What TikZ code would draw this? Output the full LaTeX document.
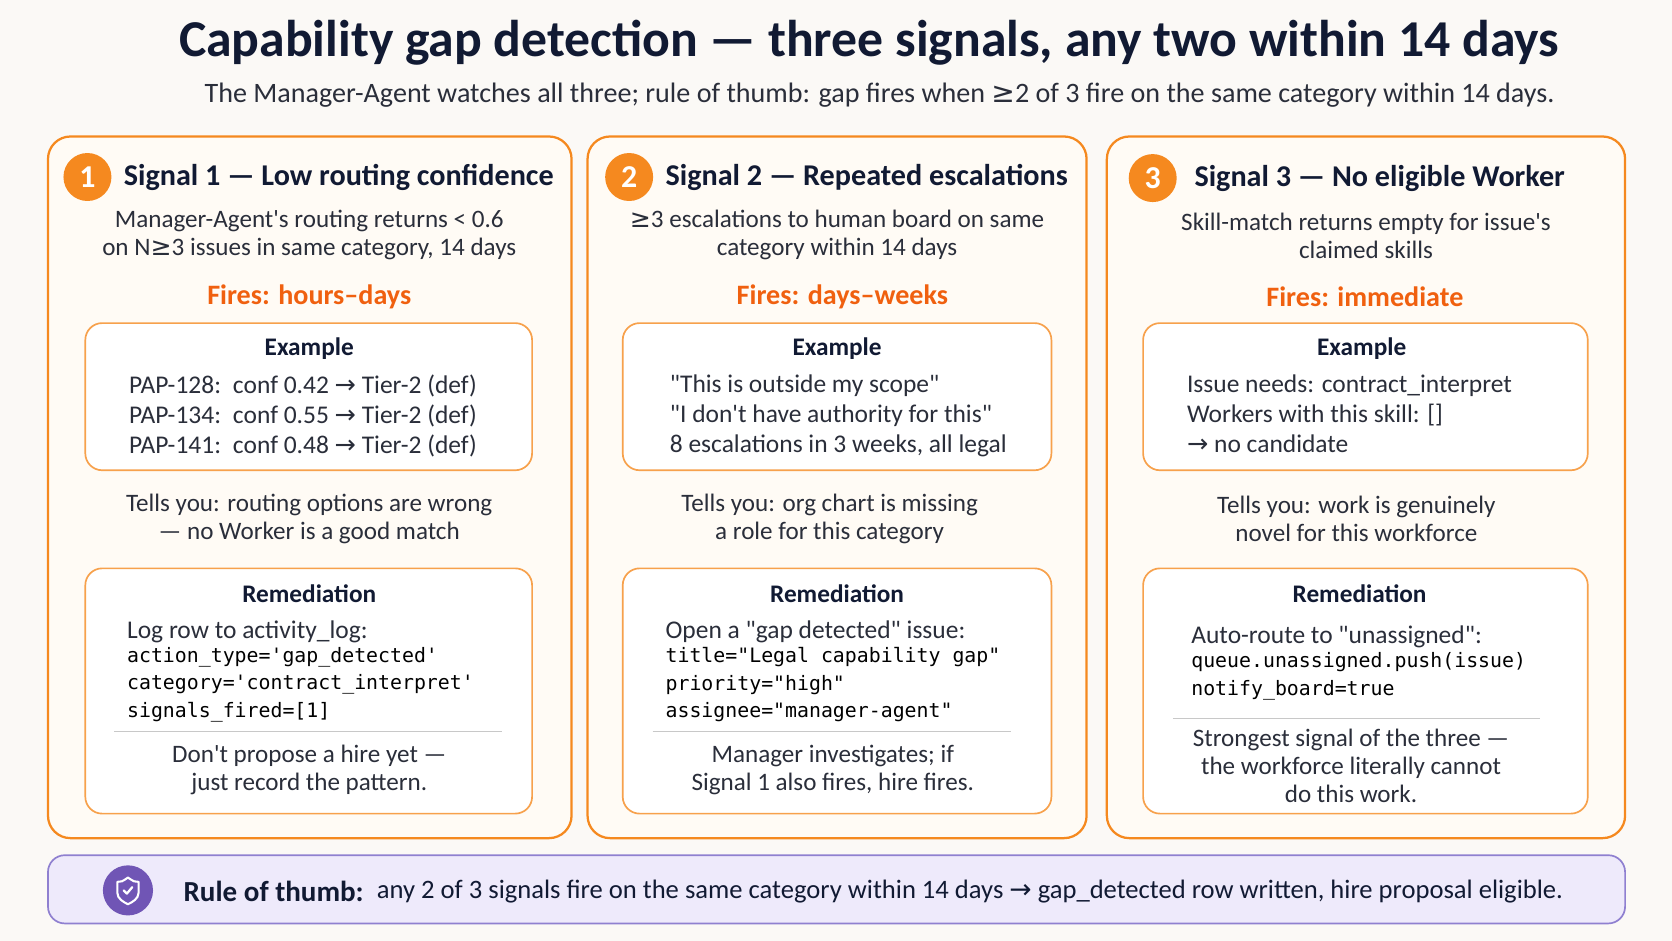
\documentclass[tikz,border=0pt]{standalone}
\usepackage{fontspec}
\setmainfont{Carlito}
\setmonofont{DejaVu Sans Mono}
\newfontfamily\symf{DejaVu Sans}
\newcommand{\ar}{{\symf\char"2192}}
\newcommand{\gee}{{\symf\char"2265}}
\newcommand{\dq}{\textquotedbl}
\newcommand{\sq}{\textquotesingle}
\definecolor{bgc}{HTML}{FBF9F6}
\definecolor{panelc}{HTML}{FFFBF5}
\definecolor{orng}{HTML}{F5891F}
\definecolor{fire}{HTML}{F0600F}
\definecolor{ink}{HTML}{111A33}
\definecolor{txt}{HTML}{2A2E3A}
\definecolor{lav}{HTML}{EEEAFB}
\definecolor{purp}{HTML}{8F80D0}
\definecolor{purpd}{HTML}{7055B5}
\definecolor{rulec}{HTML}{C8C8C8}
\tikzset{
  panel/.style={draw=orng, line width=1.2pt, fill=panelc, rounded corners=12pt},
  inbox/.style={draw=orng!80, line width=0.9pt, fill=white, rounded corners=9pt},
  num/.style={circle, fill=orng, text=white, minimum size=0.9cm, inner sep=0pt, font=\fontsize{17}{17}\selectfont\bfseries},
  head/.style={anchor=west, text=ink, font=\fontsize{16.1}{18}\selectfont\bfseries},
  desc/.style={align=center, text=txt, font=\fontsize{13.4}{15}\selectfont},
  fires/.style={text=fire, font=\fontsize{15}{16}\selectfont\bfseries},
  boxttl/.style={text=ink, font=\fontsize{13.5}{15}\selectfont\bfseries},
  exl/.style={anchor=north west, align=left, text=txt, font=\fontsize{13.6}{16}\selectfont},
  code/.style={anchor=north west, align=left, text=black, font=\fontsize{10.6}{14.6}\selectfont\ttfamily},
  sepline/.style={draw=rulec, line width=0.6pt}
}
\begin{document}
\begin{tikzpicture}[x=0.02cm, y=-0.02cm]
\useasboundingbox[fill=bgc] (0,0) rectangle (1568,882);
% title
\node (title) [text=ink, font=\fontsize{27.6}{30}\selectfont\bfseries] at (815,40) {Capability gap detection --- three signals, any two within 14 days};
\node (sub) [anchor=east, text=txt, font=\fontsize{15}{17}\selectfont] at (1464,89) {The Manager-Agent watches all three; rule of thumb: gap fires when \gee2 of 3 fire on the same category within 14 days.};
% panels
\draw[panel] (45,128) rectangle (536,786);
\draw[panel] (551,128) rectangle (1019,786);
\draw[panel] (1038,128) rectangle (1524,786);
% signal 1
\node (n1) [num] at (82,166) {1};
\node (h1) [head] at (110,166) {Signal 1 --- Low routing confidence};
\node (d1) [desc] at (290,220) {Manager-Agent\sq s routing returns < 0.6\\on N\gee3 issues in same category, 14 days};
\node (f1) [fires] at (290,278) {Fires: hours--days};
\draw[inbox] (80,303) rectangle (499,441);
\node (e1) [boxttl] at (290,327) {Example};
\node (el1) [exl] at (115,345) {PAP-128:\, conf 0.42 \ar\ Tier-2 (def)\\PAP-134:\, conf 0.55 \ar\ Tier-2 (def)\\PAP-141:\, conf 0.48 \ar\ Tier-2 (def)};
\node (t1) [desc] at (290,487) {Tells you: routing options are wrong\\--- no Worker is a good match};
\draw[inbox] (80,533) rectangle (499,763);
\node (r1) [boxttl] at (290,557) {Remediation};
\node (rl1) [exl] at (113,576) {Log row to activity\_log:};
\node (c1) [code] at (113,601) {action\_type=\sq gap\_detected\sq\\category=\sq contract\_interpret\sq\\signals\_fired=[1]};
\draw[sepline] (107,686) -- (471,686);
\node (b1) [desc] at (290,722) {Don\sq t propose a hire yet ---\\just record the pattern.};
% signal 2
\node (n2) [num] at (590,166) {2};
\node (h2) [head] at (618,166) {Signal 2 --- Repeated escalations};
\node (d2) [desc] at (785,220) {\gee3 escalations to human board on same\\category within 14 days};
\node (f2) [fires] at (790,278) {Fires: days--weeks};
\draw[inbox] (584,303) rectangle (986,441);
\node (e2) [boxttl] at (785,327) {Example};
\node (el2) [exl] at (622,345) {\dq This is outside my scope\dq\\\dq I don\sq t have authority for this\dq\\8 escalations in 3 weeks, all legal};
\node (t2) [desc] at (778,487) {Tells you: org chart is missing\\a role for this category};
\draw[inbox] (584,533) rectangle (986,763);
\node (r2) [boxttl] at (785,557) {Remediation};
\node (rl2) [exl] at (618,576) {Open a \dq gap detected\dq\ issue:};
\node (c2) [code] at (618,601) {title=\dq Legal capability gap\dq\\priority=\dq high\dq\\assignee=\dq manager-agent\dq};
\draw[sepline] (612,686) -- (948,686);
\node (b2) [desc] at (781,722) {Manager investigates; if\\Signal 1 also fires, hire fires.};
% signal 3
\node (n3) [num] at (1081,167) {3};
\node (h3) [head] at (1114,167) {Signal 3 --- No eligible Worker};
\node (d3) [desc] at (1281,221) {Skill-match returns empty for issue\sq s\\claimed skills};
\node (f3) [fires] at (1280,278) {Fires: immediate};
\draw[inbox] (1072,303) rectangle (1489,441);
\node (e3) [boxttl] at (1277,327) {Example};
\node (el3) [exl] at (1107,345) {Issue needs: contract\_interpret\\Workers with this skill: []\\\ar\ no candidate};
\node (t3) [desc] at (1272,487) {Tells you: work is genuinely\\novel for this workforce};
\draw[inbox] (1072,533) rectangle (1489,763);
\node (r3) [boxttl] at (1275,557) {Remediation};
\node (rl3) [exl] at (1111,581) {Auto-route to \dq unassigned\dq:};
\node (c3) [code] at (1111,606) {queue.unassigned.push(issue)\\notify\_board=true};
\draw[sepline] (1100,674) -- (1444,674);
\node (b3) [desc] at (1267,718) {Strongest signal of the three ---\\the workforce literally cannot\\do this work.};
% rule of thumb bar
\draw[draw=purp, fill=lav, line width=0.9pt, rounded corners=9pt] (45,802) rectangle (1524,866);
\node (ic) [circle, fill=purpd, minimum size=0.94cm, inner sep=0pt] at (120,835) {};
\draw[white, line width=1.1pt, line join=round] ([shift={(0,-12)}]ic.center) .. controls ([shift={(6,-8)}]ic.center) .. ([shift={(10,-8)}]ic.center) -- ([shift={(10,2)}]ic.center) .. controls ([shift={(10,8)}]ic.center) and ([shift={(4,11)}]ic.center) .. ([shift={(0,13)}]ic.center) .. controls ([shift={(-4,11)}]ic.center) and ([shift={(-10,8)}]ic.center) .. ([shift={(-10,2)}]ic.center) -- ([shift={(-10,-8)}]ic.center) .. controls ([shift={(-6,-8)}]ic.center) .. cycle;
\draw[white, line width=1.2pt, line cap=round, line join=round] ([shift={(-4,0)}]ic.center) -- ([shift={(-1,3)}]ic.center) -- ([shift={(4,-3)}]ic.center);
\node (rt) [anchor=west, text=ink, font=\fontsize{15.5}{17}\selectfont\bfseries] at (166,836) {Rule of thumb:};
\node (rtx) [anchor=west, text=ink, font=\fontsize{14.2}{16}\selectfont] at (rt.east) {any 2 of 3 signals fire on the same category within 14 days \ar\ gap\_detected row written, hire proposal eligible.};
\end{tikzpicture}
\end{document}
